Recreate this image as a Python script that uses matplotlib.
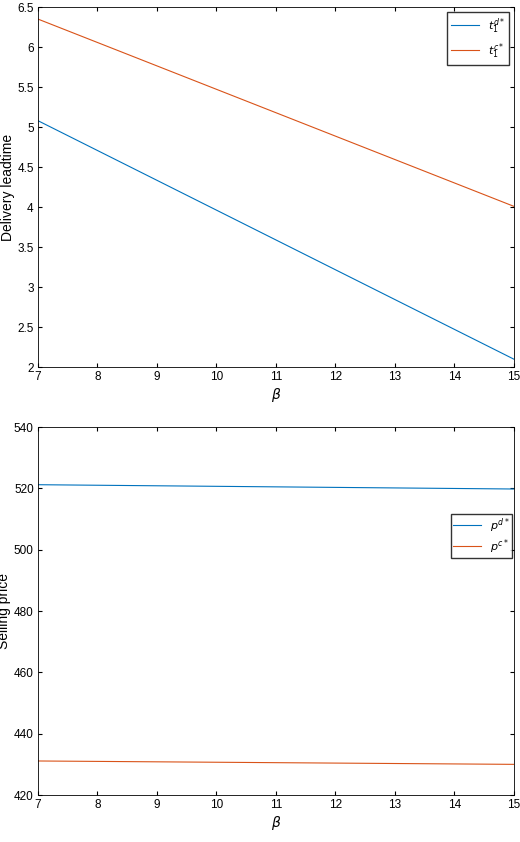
import matplotlib
matplotlib.use("Agg")
import matplotlib.pyplot as plt
from matplotlib.ticker import FormatStrFormatter

plt.rcParams['font.family'] = ['Liberation Sans', 'DejaVu Sans']

beta = [7, 15]
t_d = [5.08, 2.10]
t_c = [6.35, 4.01]
p_d = [521.2, 519.8]
p_c = [431.1, 430.0]

blue = "#0072BD"; red = "#D95319"
fig = plt.figure(figsize=(5.2, 8.42), dpi=100)
ax1 = fig.add_axes([0.073, 0.564, 0.915, 0.4276])
ax2 = fig.add_axes([0.073, 0.0558, 0.915, 0.437])

ax1.plot(beta, t_d, color=blue, lw=0.8, label=r"$t_1^{d*}$")
ax1.plot(beta, t_c, color=red, lw=0.8, label=r"$t_1^{c*}$")
ax1.set_xlim(7, 15); ax1.set_ylim(2, 6.5)
ax1.set_yticks([2, 2.5, 3, 3.5, 4, 4.5, 5, 5.5, 6, 6.5])
ax1.yaxis.set_major_formatter(FormatStrFormatter('%g'))
ax1.set_ylabel("Delivery leadtime", fontsize=10, labelpad=2)
ax1.legend(loc="upper right", fancybox=False, edgecolor="black", fontsize=8,
           borderaxespad=0.4, handlelength=2.5)

ax2.plot(beta, p_d, color=blue, lw=0.8, label=r"$p^{d*}$")
ax2.plot(beta, p_c, color=red, lw=0.8, label=r"$p^{c*}$")
ax2.set_xlim(7, 15); ax2.set_ylim(420, 540)
ax2.set_ylabel("Selling price", fontsize=10, labelpad=2)
ax2.legend(loc="upper right", bbox_to_anchor=(1, 0.77), fancybox=False, edgecolor="black",
           fontsize=8, borderaxespad=0.2, handlelength=2.5, borderpad=0.2, labelspacing=0.2)

for ax in (ax1, ax2):
    ax.set_xticks(range(7, 16))
    ax.set_xlabel(r"$\beta$", fontsize=10, labelpad=2)
    ax.tick_params(direction="in", top=True, right=True, labelsize=8.5, length=3, pad=3)
    for s in ax.spines.values():
        s.set_linewidth(0.6)
fig.savefig("out.png")
